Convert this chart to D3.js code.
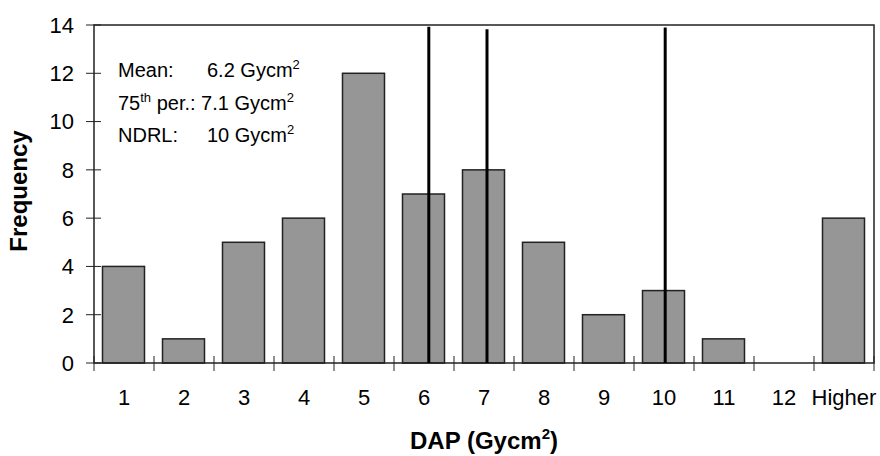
<!DOCTYPE html>
<html lang="en">
<head>
    <meta charset="UTF-8">
    <title>DAP histogram</title>
    <script src="https://d3js.org/d3.v7.min.js"></script>
    <style>
    body { margin: 0; background: #fff; }
    svg text { font-family: "Liberation Sans", Arial, sans-serif; fill: #000; }
    .bar { fill: #969696; stroke: #222; stroke-width: 1.5px; }
    .frame { fill: none; stroke: #222; stroke-width: 1.5px; }
    .marker { stroke: #000; stroke-width: 3px; }
    .tick-mark { stroke: #222; stroke-width: 1px; }
    </style>
</head>
<body>
<svg id="chart"></svg>
<script>
    // histogram bins and counts
    const categories = ['1', '2', '3', '4', '5', '6', '7', '8', '9', '10', '11', '12', 'Higher'];
    const frequency = [4, 1, 5, 6, 12, 7, 8, 5, 2, 3, 1, 0, 6];
    const yTicks = [0, 2, 4, 6, 8, 10, 12, 14];

    // reference lines (where they sit on the bin axis, and how high they reach)
    const markerNames = ['Mean', '75th per.', 'NDRL'];
    const markerPos = [6.08, 7.05, 10.02];
    const markerTop = [13.93, 13.82, 13.9];

    const width = 880, height = 456;
    const margin = { top: 25, right: 6, bottom: 93, left: 94 };
    const x0 = margin.left, x1 = width - margin.right;
    const y0 = height - margin.bottom, y1 = margin.top;

    const svg = d3.select('#chart')
        .attr('width', width)
        .attr('height', height);

    // scales
    const xBand = d3.scaleBand()
        .domain(categories)
        .range([x0, x1])
        .padding(0);
    const xLin = d3.scaleLinear()
        .domain([0.5, categories.length + 0.5])
        .range([x0, x1]);
    const yScale = d3.scaleLinear()
        .domain([0, 14])
        .range([y0, y1]);

    // bars
    const barW = xBand.bandwidth() * 0.7;
    svg.selectAll('.bar')
        .data(categories)
        .enter()
        .append('rect')
        .attr('class', 'bar')
        .attr('x', (d, i) => xBand(d) + (xBand.bandwidth() - barW) / 2 - 0.5)
        .attr('y', (d, i) => yScale(frequency[i]))
        .attr('width', barW)
        .attr('height', (d, i) => yScale(0) - yScale(frequency[i]))
        .style('display', (d, i) => frequency[i] > 0 ? null : 'none');

    // plot frame
    svg.append('rect')
        .attr('class', 'frame')
        .attr('x', x0)
        .attr('y', y1)
        .attr('width', x1 - x0)
        .attr('height', y0 - y1);

    // vertical reference lines
    svg.selectAll('.marker')
        .data(markerPos)
        .enter()
        .append('line')
        .attr('class', 'marker')
        .attr('x1', d => xLin(d))
        .attr('x2', d => xLin(d))
        .attr('y1', yScale(0))
        .attr('y2', (d, i) => yScale(markerTop[i]));

    // y axis ticks (crossing) and labels
    const yAxis = svg.append('g');
    yAxis.selectAll('line')
        .data(yTicks)
        .enter()
        .append('line')
        .attr('class', 'tick-mark')
        .attr('x1', x0 - 8)
        .attr('x2', x0 + 7)
        .attr('y1', d => yScale(d))
        .attr('y2', d => yScale(d));
    yAxis.selectAll('text')
        .data(yTicks)
        .enter()
        .append('text')
        .attr('x', x0 - 20)
        .attr('y', d => yScale(d))
        .attr('dy', '0.36em')
        .attr('text-anchor', 'end')
        .style('font-size', '22px')
        .text(d => d);

    // x axis ticks at bin boundaries and labels at bin centres
    const xAxis = svg.append('g');
    const edges = categories.map(d => xBand(d)).concat([x1]);
    xAxis.selectAll('line')
        .data(edges)
        .enter()
        .append('line')
        .attr('class', 'tick-mark')
        .attr('x1', d => d)
        .attr('x2', d => d)
        .attr('y1', y0 - 7)
        .attr('y2', y0 + 8);
    xAxis.selectAll('text')
        .data(categories)
        .enter()
        .append('text')
        .attr('x', d => xBand(d) + xBand.bandwidth() / 2)
        .attr('y', 405)
        .attr('text-anchor', 'middle')
        .style('font-size', '22px')
        .text(d => d);

    // axis titles
    const xTitle = svg.append('text')
        .attr('x', (x0 + x1) / 2)
        .attr('y', 449)
        .attr('text-anchor', 'middle')
        .style('font-size', '24px')
        .style('font-weight', 'bold');
    xTitle.append('tspan').text('DAP (Gycm');
    xTitle.append('tspan').attr('dy', -10).style('font-size', '15px').text('2');
    xTitle.append('tspan').attr('dy', 10).text(')');

    svg.append('text')
        .attr('transform', 'translate(27,191) rotate(-90)')
        .attr('text-anchor', 'middle')
        .style('font-size', '24px')
        .style('font-weight', 'bold')
        .text('Frequency');

    // annotation block: text pieces, superscripts raised
    const note = svg.append('g').style('font-size', '20px');
    function addLine(y, parts) {
        const t = note.append('text').attr('x', 118).attr('y', y);
        let raised = false;
        parts.forEach(p => {
            const s = t.append('tspan').text(p.text);
            if (p.x) s.attr('x', p.x);
            if (p.sup) {
                s.attr('dy', -8).style('font-size', '13px');
                raised = true;
            } else if (raised) {
                s.attr('dy', 8);
                raised = false;
            }
        });
    }
    addLine(77, [
        { text: markerNames[0] + ':' },
        { text: '6.2 Gycm', x: 207 },
        { text: '2', sup: true }
    ]);
    addLine(109.5, [
        { text: '75' },
        { text: 'th', sup: true },
        { text: ' per.: 7.1 Gycm' },
        { text: '2', sup: true }
    ]);
    addLine(142, [
        { text: markerNames[2] + ':' },
        { text: '10 Gycm', x: 207 },
        { text: '2', sup: true }
    ]);
</script>
</body>
</html>
